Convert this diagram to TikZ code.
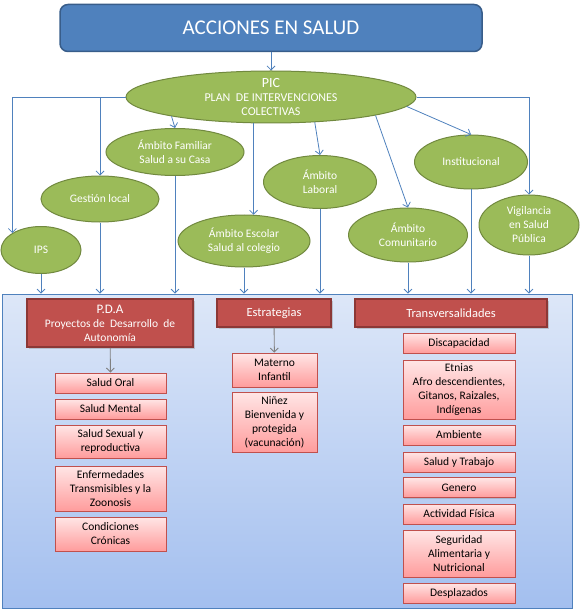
\documentclass[tikz,border=0pt]{standalone}
\usepackage{fontspec}
\setmainfont{Carlito}
\usetikzlibrary{positioning,arrows.meta,shapes.geometric,shadows}

\definecolor{titleblue}{HTML}{4F81BD}
\definecolor{titleedge}{HTML}{385D8A}
\definecolor{ambgreen}{HTML}{9BBB59}
\definecolor{ambedge}{HTML}{71893F}
\definecolor{brick}{HTML}{C0504D}
\definecolor{brickedge}{HTML}{8C3836}
\definecolor{panetop}{HTML}{DDE7F8}
\definecolor{panebot}{HTML}{A3BFEF}
\definecolor{itemtop}{HTML}{FFE6E6}
\definecolor{itembot}{HTML}{FF9C9C}

\tikzset{
  conn/.style={titleblue, line width=0.8pt, -{Straight Barb[length=4pt,width=8pt]}},
  subconn/.style={gray, line width=0.9pt, -{Straight Barb[length=4pt,width=8pt]}},
  amb/.style={ellipse, draw=ambedge, line width=1pt, fill=ambgreen, text=white,
    inner sep=0pt, align=center, font=\fontsize{11.5}{14}\selectfont},
  headbox/.style={rectangle, draw=brickedge, line width=1.5pt, fill=brick, text=white,
    inner sep=1pt, align=center, font=\fontsize{11.5}{14}\selectfont,
    drop shadow={opacity=0.35, shadow xshift=1.5pt, shadow yshift=-1.5pt}},
  itembox/.style={rectangle, draw=brick, line width=0.8pt, top color=itemtop, bottom color=itembot,
    text=black, inner sep=1pt, align=center, font=\fontsize{11.5}{14}\selectfont,
    drop shadow={opacity=0.3, shadow xshift=1.2pt, shadow yshift=-1.2pt}}
}

\begin{document}
\begin{tikzpicture}[x=1pt, y=-1pt]
\useasboundingbox (0,0) rectangle (581,612);

% Title
\node[rectangle, rounded corners=8pt, draw=titleedge, line width=1.5pt, fill=titleblue,
  text=white, font=\fontsize{21}{24}\selectfont, minimum width=422, minimum height=47]
  (title) at (271,28) {ACCIONES EN SALUD};

% === PIC and its ambitos ===
\node[amb, inner ysep=-3pt, minimum width=290, minimum height=52,
  font=\fontsize{12}{14}\selectfont] (pic) at (271,97)
  {{\fontsize{14}{15}\selectfont PIC}\\PLAN\ \ DE INTERVENCIONES\\COLECTIVAS};

\node[amb, minimum width=80, minimum height=47] (ips) at (41,250) {IPS};
\node[amb, minimum width=118, minimum height=46] (gestion) at (100,199) {Gestión local};
\node[amb, minimum width=138, minimum height=47] (familiar) at (175,152) {Ámbito Familiar\\Salud a su Casa};
\node[amb, minimum width=132, minimum height=52] (escolar) at (244,241) {Ámbito Escolar\\Salud al colegio};
\node[amb, minimum width=113, minimum height=53] (laboral) at (320,182) {Ámbito\\Laboral};
\node[amb, minimum width=119, minimum height=54] (comunitario) at (408,235) {Ámbito\\Comunitario};
\node[amb, minimum width=113, minimum height=54] (institucional) at (471,162) {Institucional};
\node[amb, minimum width=100, minimum height=60] (vigilancia) at (529,225) {Vigilancia\\en Salud\\Pública};

% Connectors from title and PIC
\draw[conn] (title) -- (pic);
\draw[conn] (pic.west) -| (ips.north west);
\draw[conn] (pic.west) -| (gestion.north);
\draw[conn] (pic.191) -- (familiar.north);
\draw[conn] (pic.south -| escolar.70) -- (escolar.70);
\draw[conn] (pic.-30) -- (laboral.north);
\draw[conn] (pic.-10) -- (comunitario.north);
\draw[conn] (pic.-4) -- (institucional.north);
\draw[conn] (pic.east) -| (vigilancia.north);

% === Lower panel ===
\node[rectangle, draw=titleblue, line width=0.8pt, top color=panetop, bottom color=panebot,
  minimum width=570, minimum height=314, inner sep=0pt] (pane) at (287,451) {};

% Ambitos down to panel
\draw[conn] (ips.south) -- (ips.south |- pane.north);
\draw[conn] (gestion.south) -- (gestion.south |- pane.north);
\draw[conn] (familiar.south) -- (familiar.south |- pane.north);
\draw[conn] (escolar.south) -- (escolar.south |- pane.north);
\draw[conn] (laboral.south) -- (laboral.south |- pane.north);
\draw[conn] (comunitario.south) -- (comunitario.south |- pane.north);
\draw[conn] (institucional.south) -- (institucional.south |- pane.north);
\draw[conn] (vigilancia.south) -- (vigilancia.south |- pane.north);

% Headers
\node[headbox, minimum width=166, minimum height=48] (pda) at (110,323)
  {{\fontsize{13}{14}\selectfont P.D.A}\\Proyectos de\ \ Desarrollo\ \ de\\Autonomía};
\node[headbox, minimum width=114, minimum height=28, font=\fontsize{12.5}{14}\selectfont]
  (estrategias) at (274,313) {Estrategias};
\node[headbox, minimum width=192, minimum height=28, font=\fontsize{12.5}{14}\selectfont]
  (transv) at (451,313) {Transversalidades};

% P.D.A items
\node[itembox, minimum width=111, minimum height=20] (oral) at (110.5,383) {Salud Oral};
\node[itembox, minimum width=111, minimum height=20] (mental) at (110.5,409) {Salud Mental};
\node[itembox, minimum width=111, minimum height=33] (sexual) at (110.5,441.5) {Salud Sexual y\\reproductiva};
\node[itembox, minimum width=111, minimum height=45] (enfermedades) at (110.5,488.5) {Enfermedades\\Transmisibles y la\\Zoonosis};
\node[itembox, minimum width=111, minimum height=34] (cronicas) at (110.5,534) {Condiciones\\Crónicas};

% Estrategias items
\node[itembox, minimum width=85, minimum height=34] (materno) at (274.5,370) {Materno\\Infantil};
\node[itembox, minimum width=85, minimum height=60] (ninez) at (274.5,422) {Niñez\\Bienvenida y\\protegida\\(vacunación)};

% Transversalidades items
\node[itembox, minimum width=112, minimum height=20] (discapacidad) at (459,343) {Discapacidad};
\node[itembox, minimum width=112, minimum height=59] (etnias) at (459,389.5) {Etnias\\Afro descendientes,\\Gitanos, Raizales,\\Indígenas};
\node[itembox, minimum width=112, minimum height=20] (ambiente) at (459,435) {Ambiente};
\node[itembox, minimum width=112, minimum height=20] (trabajo) at (459,462) {Salud y Trabajo};
\node[itembox, minimum width=112, minimum height=20] (genero) at (459,487.5) {Genero};
\node[itembox, minimum width=112, minimum height=20] (fisica) at (459,514) {Actividad Física};
\node[itembox, minimum width=112, minimum height=47] (seguridad) at (459,553.5) {Seguridad\\Alimentaria y\\Nutricional};
\node[itembox, minimum width=112, minimum height=20] (desplazados) at (459,593) {Desplazados};

% Header to first item
\draw[subconn] (pda) -- (oral);
\draw[subconn] (estrategias) -- (materno);

\end{tikzpicture}
\end{document}
